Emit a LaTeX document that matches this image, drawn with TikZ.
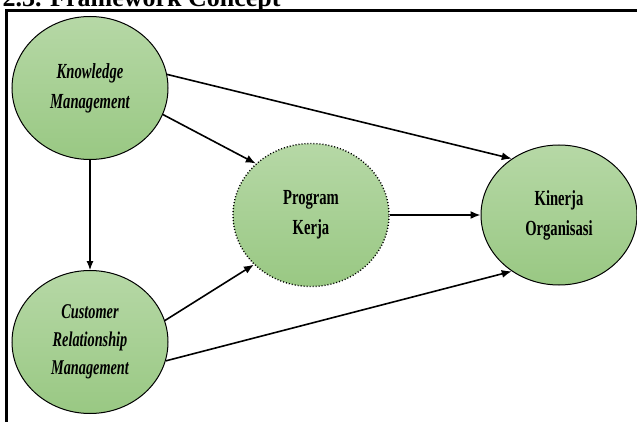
\documentclass[tikz,border=0pt]{standalone}
\usepackage{fontspec}
\setmainfont{Liberation Serif}
\newfontfamily\condfont[FakeStretch=0.68]{Liberation Serif}
\usetikzlibrary{shapes.geometric,arrows.meta}
\definecolor{gtop}{HTML}{B6D8A6}
\definecolor{gbot}{HTML}{99C883}
\tikzset{
  bubble/.style={ellipse, minimum width=156pt, minimum height=143pt, inner sep=0pt,
    top color=gtop, bottom color=gbot, draw=black, line width=1pt, align=center,
    font=\condfont\bfseries\fontsize{21.5}{30}\selectfont},
  dotbubble/.style={bubble, dotted, line width=1.4pt},
  link/.style={line width=1.6pt, -{Latex[length=10pt,width=8pt]}},
  thinlink/.style={line width=1.1pt, -{Latex[length=9pt,width=7pt]}},
  frame/.style={line width=3pt}
}
\begin{document}
\begin{tikzpicture}[x=1pt,y=1pt]
\useasboundingbox (0,0) rectangle (637,421);
\node[anchor=base west, font=\bfseries\fontsize{26}{30}\selectfont] (title) at (-1,414) {2.3. Framework Concept};
\coordinate (ftl) at (6.5,410);
\coordinate (ftr) at (640,410);
\coordinate (fbl) at (6.5,-5);
\draw[frame] (ftr) -- (ftl) -- (fbl);
\node[bubble] (km) at (90,333) {\itshape Knowledge\\ \itshape Management};
\node[bubble, font=\condfont\bfseries\itshape\fontsize{21}{28}\selectfont] (crm) at (90,79) {Customer\\Relationship\\Management};
\node[dotbubble] (pk) at (311,206) {Program\\Kerja};
\node[bubble, minimum height=140pt] (ko) at (559,206) {Kinerja\\Organisasi};
\draw[link] (km.10) -- (ko.130);
\draw[link] (km.-20) -- (pk.137);
\draw[thinlink] (km.south) -- (crm.north);
\draw[link] (crm.16) -- (pk.221);
\draw[link] (crm.-14) -- (ko.230);
\draw[link] (pk.east) -- (ko.west);
\end{tikzpicture}
\end{document}
